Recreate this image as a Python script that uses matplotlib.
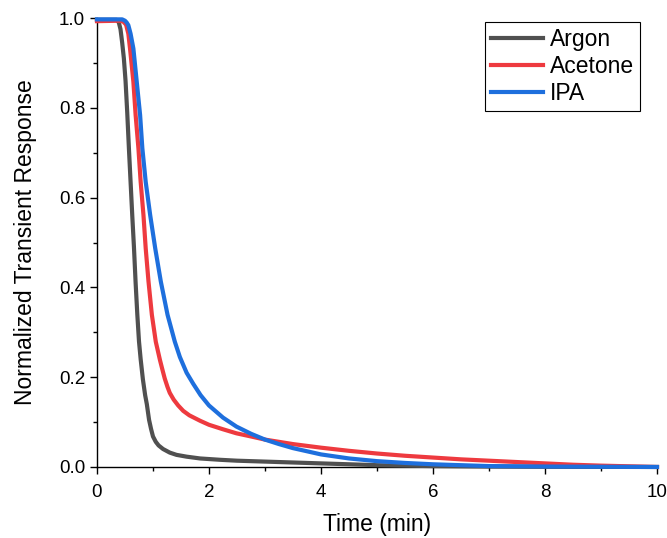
import matplotlib
matplotlib.use("Agg")
import matplotlib.pyplot as plt
from matplotlib.ticker import MultipleLocator, FormatStrFormatter

plt.rcParams['font.family'] = ['Liberation Sans', 'DejaVu Sans']

# values
argon_t = [0.0, 0.35, 0.39, 0.42, 0.45, 0.48, 0.51, 0.54, 0.57, 0.60, 0.63, 0.66,
           0.69, 0.72, 0.75, 0.78, 0.82, 0.86, 0.89, 0.93, 0.965, 1.00, 1.05, 1.10,
           1.18, 1.30, 1.42, 1.6, 1.84, 2.2, 2.5, 3.0, 3.5, 4.0, 4.5, 5.0,
           6.0, 7.0, 8.0, 10.0]
argon_v = [0.996, 0.996, 0.99, 0.975, 0.945, 0.91, 0.86, 0.79, 0.71, 0.635, 0.56, 0.49,
           0.41, 0.34, 0.28, 0.24, 0.195, 0.16, 0.14, 0.105, 0.085, 0.068, 0.056, 0.048,
           0.040, 0.032, 0.027, 0.023, 0.019, 0.016, 0.014, 0.012, 0.010, 0.008, 0.006, 0.004,
           0.002, 0.001, 0.0005, 0.0]

acetone_t = [0.0, 0.40, 0.47, 0.52, 0.56, 0.59, 0.62, 0.65, 0.69, 0.74, 0.78, 0.83,
             0.87, 0.92, 0.98, 1.05, 1.125, 1.17, 1.21, 1.26, 1.30, 1.37, 1.45, 1.54,
             1.65, 1.84, 2.0, 2.25, 2.49, 2.75, 3.0, 3.5, 4.0, 4.5, 5.0, 5.5,
             6.0, 6.5, 7.0, 7.5, 8.0, 8.5, 9.0, 9.5, 10.0]
acetone_v = [0.993, 0.994, 0.992, 0.985, 0.965, 0.932, 0.895, 0.858, 0.784, 0.71, 0.635, 0.561,
             0.487, 0.413, 0.339, 0.279, 0.238, 0.216, 0.197, 0.178, 0.165, 0.150, 0.137, 0.125,
             0.115, 0.103, 0.094, 0.084, 0.075, 0.068, 0.061, 0.051, 0.043, 0.036, 0.030, 0.025,
             0.021, 0.017, 0.014, 0.011, 0.008, 0.005, 0.003, 0.0015, 0.0]

ipa_t = [0.0, 0.45, 0.50, 0.53, 0.56, 0.60, 0.65, 0.71, 0.77, 0.81, 0.87, 0.95,
         1.04, 1.14, 1.26, 1.39, 1.48, 1.6, 1.72, 1.85, 2.0, 2.25, 2.49, 2.75,
         3.0, 3.25, 3.5, 3.75, 4.0, 4.5, 5.0, 5.5, 6.0, 6.5, 7.0, 8.0, 10.0]
ipa_v = [0.997, 0.997, 0.994, 0.99, 0.984, 0.965, 0.932, 0.858, 0.784, 0.71, 0.635, 0.561,
         0.487, 0.413, 0.339, 0.279, 0.245, 0.21, 0.185, 0.16, 0.137, 0.11, 0.09, 0.074,
         0.061, 0.051, 0.042, 0.035, 0.028, 0.019, 0.013, 0.009, 0.006, 0.004, 0.002, 0.001, 0.0]

x_ticks = [0, 2, 4, 6, 8, 10]
y_ticks = [0.0, 0.2, 0.4, 0.6, 0.8, 1.0]

fig = plt.figure(figsize=(6.67, 5.38), dpi=100)
ax = fig.add_axes([0.1454, 0.132, 0.8396, 0.8345])

ax.plot(argon_t, argon_v, color='#505050', lw=3, label='Argon', clip_on=False, zorder=3)
ax.plot(acetone_t, acetone_v, color='#ee3a3f', lw=3, label='Acetone', clip_on=False, zorder=3)
ax.plot(ipa_t, ipa_v, color='#1e6fdd', lw=3, label='IPA', clip_on=False, zorder=3)

ax.set_xlim(0, 10)
ax.set_ylim(0, 1.0)
ax.set_xticks(x_ticks)
ax.set_yticks(y_ticks)
ax.xaxis.set_minor_locator(MultipleLocator(1))
ax.yaxis.set_minor_locator(MultipleLocator(0.1))
ax.yaxis.set_major_formatter(FormatStrFormatter('%.1f'))

for side in ['top', 'right']:
    ax.spines[side].set_visible(False)
for side in ['left', 'bottom']:
    ax.spines[side].set_linewidth(1.0)

ax.tick_params(which='major', direction='out', length=5, width=1, labelsize=13.5)
ax.tick_params(axis='x', which='major', pad=7)
ax.tick_params(which='minor', direction='out', length=3, width=1)

ax.set_xlabel('Time (min)', fontsize=16.5, labelpad=9)
ax.set_ylabel('Normalized Transient Response', fontsize=16.5, labelpad=16)

leg = ax.legend(loc='upper right', bbox_to_anchor=(0.97, 0.991), fontsize=16.5,
                frameon=True, fancybox=False, edgecolor='black', framealpha=1,
                handlelength=2.3, handletextpad=0.3, borderpad=0.25, labelspacing=0.18,
                borderaxespad=0)
leg.get_frame().set_linewidth(0.8)

fig.savefig('out.png', dpi=100)
